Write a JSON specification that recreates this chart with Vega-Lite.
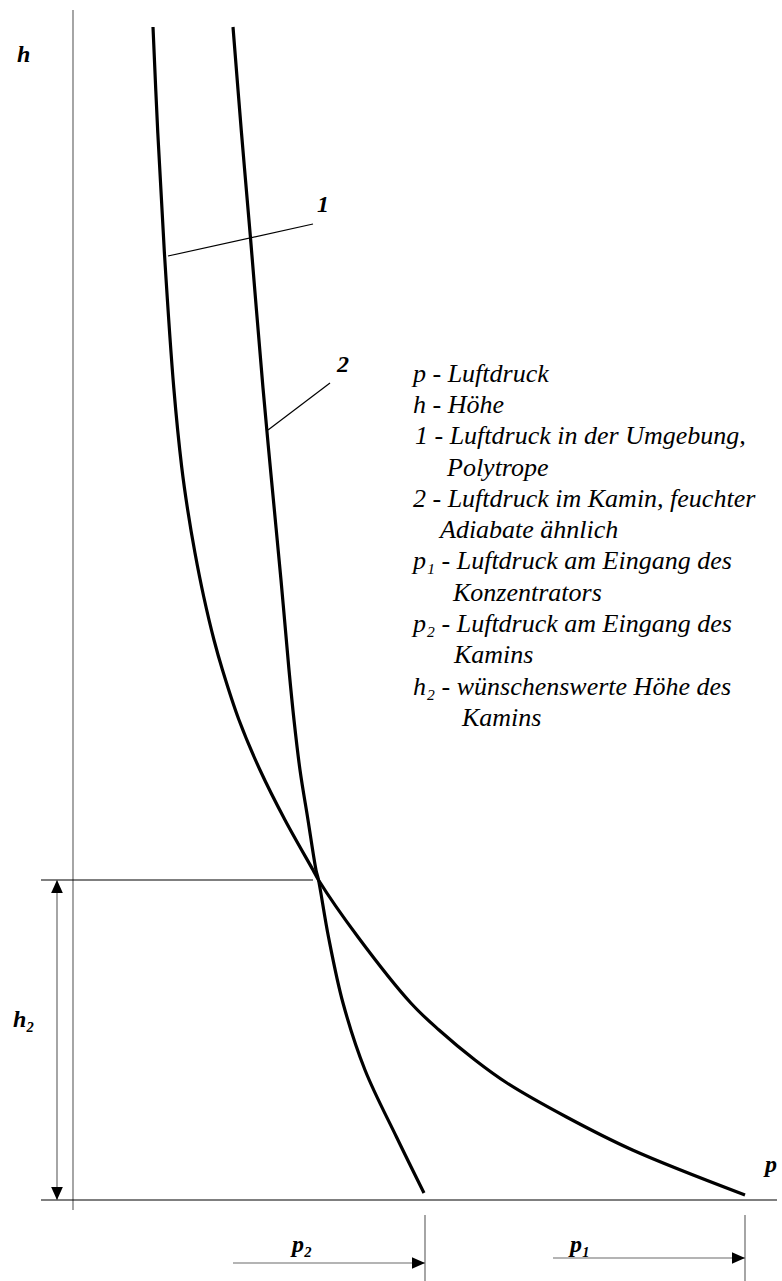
{
  "$schema": "https://vega.github.io/schema/vega-lite/v6.json",
  "width": 782,
  "height": 1281,
  "padding": 0,
  "autosize": {"type": "none"},
  "view": {"stroke": null},
  "datasets": {
    "curves": [
      {"curve": "1", "i": 0, "p": 80, "h": 1173},
      {"curve": "1", "i": 1, "p": 84.8, "h": 1067},
      {"curve": "1", "i": 2, "p": 91.6, "h": 944},
      {"curve": "1", "i": 3, "p": 100.8, "h": 812},
      {"curve": "1", "i": 4, "p": 108.7, "h": 733},
      {"curve": "1", "i": 5, "p": 114.7, "h": 690},
      {"curve": "1", "i": 6, "p": 122, "h": 647},
      {"curve": "1", "i": 7, "p": 130.8, "h": 603},
      {"curve": "1", "i": 8, "p": 141, "h": 560},
      {"curve": "1", "i": 9, "p": 149.5, "h": 530},
      {"curve": "1", "i": 10, "p": 166, "h": 480},
      {"curve": "1", "i": 11, "p": 187, "h": 430},
      {"curve": "1", "i": 12, "p": 212, "h": 380},
      {"curve": "1", "i": 13, "p": 240, "h": 330},
      {"curve": "1", "i": 14, "p": 245.5, "h": 320},
      {"curve": "1", "i": 15, "p": 285, "h": 263},
      {"curve": "1", "i": 16, "p": 337.8, "h": 197},
      {"curve": "1", "i": 17, "p": 366, "h": 170},
      {"curve": "1", "i": 18, "p": 402, "h": 140},
      {"curve": "1", "i": 19, "p": 434, "h": 117},
      {"curve": "1", "i": 20, "p": 493.5, "h": 83},
      {"curve": "1", "i": 21, "p": 559.5, "h": 50},
      {"curve": "1", "i": 22, "p": 672, "h": 5},
      {"curve": "2", "i": 0, "p": 160, "h": 1173},
      {"curve": "2", "i": 1, "p": 168.5, "h": 1067},
      {"curve": "2", "i": 2, "p": 177.5, "h": 962},
      {"curve": "2", "i": 3, "p": 190, "h": 812},
      {"curve": "2", "i": 4, "p": 198.5, "h": 720},
      {"curve": "2", "i": 5, "p": 208, "h": 620},
      {"curve": "2", "i": 6, "p": 216, "h": 530},
      {"curve": "2", "i": 7, "p": 221, "h": 480},
      {"curve": "2", "i": 8, "p": 227, "h": 430},
      {"curve": "2", "i": 9, "p": 235, "h": 380},
      {"curve": "2", "i": 10, "p": 243, "h": 330},
      {"curve": "2", "i": 11, "p": 245.5, "h": 320},
      {"curve": "2", "i": 12, "p": 255.5, "h": 263},
      {"curve": "2", "i": 13, "p": 270, "h": 197},
      {"curve": "2", "i": 14, "p": 292, "h": 130},
      {"curve": "2", "i": 15, "p": 323.5, "h": 63},
      {"curve": "2", "i": 16, "p": 351, "h": 7}
    ],
    "segs": [
      {"kind": "gray", "p": 0, "h": 1190, "p2": 0, "h2": -10},
      {"kind": "dark", "p": -32, "h": 0, "p2": 704, "h2": 0},
      {"kind": "dark", "p": -32, "h": 320, "p2": 240, "h2": 320},
      {"kind": "gray", "p": -16, "h": 320, "p2": -16, "h2": 0},
      {"kind": "dark", "p": 95, "h": 944, "p2": 240, "h2": 976},
      {"kind": "dark", "p": 195, "h": 770, "p2": 257, "h2": 817},
      {"kind": "gray", "p": 352, "h": -15, "p2": 352, "h2": -81},
      {"kind": "gray", "p": 672, "h": -15, "p2": 672, "h2": -81},
      {"kind": "gray", "p": 160, "h": -63, "p2": 352, "h2": -63},
      {"kind": "gray", "p": 480, "h": -58, "p2": 672, "h2": -58}
    ],
    "heads": [
      {"dir": "up", "p": -16, "h": 320},
      {"dir": "down", "p": -16, "h": 0},
      {"dir": "right", "p": 352, "h": -63},
      {"dir": "right", "p": 672, "h": -58}
    ],
    "labels": [
      {"label": "h", "p": -56, "h": 1138},
      {"label": "1", "p": 244, "h": 988},
      {"label": "2", "p": 264, "h": 828},
      {"label": "h₂", "p": -60, "h": 173},
      {"label": "p₂", "p": 219, "h": -52},
      {"label": "p₁", "p": 497, "h": -52},
      {"label": "p", "p": 692, "h": 28}
    ],
    "legend": [
      {"label": "p - Luftdruck", "p": 340, "h": 818},
      {"label": "h - Höhe", "p": 340, "h": 787},
      {"label": "1 - Luftdruck in der Umgebung,", "p": 342, "h": 756},
      {"label": "Polytrope", "p": 374, "h": 724},
      {"label": "2 - Luftdruck im Kamin, feuchter", "p": 340, "h": 693},
      {"label": "Adiabate ähnlich", "p": 367, "h": 662},
      {"label": "p₁ - Luftdruck am Eingang des", "p": 340, "h": 631},
      {"label": "Konzentrators", "p": 380, "h": 599},
      {"label": "p₂ - Luftdruck am Eingang des", "p": 340, "h": 568},
      {"label": "Kamins", "p": 381, "h": 537},
      {"label": "h₂ - wünschenswerte Höhe des", "p": 340, "h": 505},
      {"label": "Kamins", "p": 389, "h": 474}
    ]
  },
  "encoding": {
    "x": {"field": "p", "type": "quantitative", "scale": {"domain": [-73, 709], "nice": false, "zero": false}, "axis": null},
    "y": {"field": "h", "type": "quantitative", "scale": {"domain": [-81, 1200], "nice": false, "zero": false}, "axis": null}
  },
  "layer": [
    {
      "data": {"name": "segs"},
      "mark": {"type": "rule", "strokeWidth": 1.2},
      "encoding": {
        "x2": {"field": "p2"},
        "y2": {"field": "h2"},
        "color": {"field": "kind", "type": "nominal", "scale": {"domain": ["dark", "gray"], "range": ["#000000", "#6a6a6a"]}, "legend": null}
      }
    },
    {
      "data": {"name": "curves"},
      "mark": {"type": "line", "interpolate": "catmull-rom", "strokeWidth": 3.2, "color": "#000000", "strokeCap": "butt"},
      "encoding": {
        "detail": {"field": "curve", "type": "nominal"},
        "order": {"field": "i", "type": "quantitative"}
      }
    },
    {
      "data": {"name": "heads"},
      "mark": {"type": "point", "filled": true, "opacity": 1, "color": "#000000", "strokeWidth": 0, "size": 169},
      "encoding": {
        "shape": {"field": "dir", "type": "nominal", "scale": {"domain": ["up", "down", "right"], "range": ["M0,0L-0.9,2L0.9,2Z", "M0,0L-0.9,-2L0.9,-2Z", "M0,0L-2,-0.9L-2,0.9Z"]}, "legend": null}
      }
    },
    {
      "data": {"name": "labels"},
      "mark": {"type": "text", "fontSize": 24, "fontStyle": "italic", "fontWeight": "bold", "align": "left", "baseline": "alphabetic", "font": "Liberation Serif"},
      "encoding": {"text": {"field": "label"}}
    },
    {
      "data": {"name": "legend"},
      "mark": {"type": "text", "fontSize": 26, "fontStyle": "italic", "align": "left", "baseline": "alphabetic", "font": "Liberation Serif"},
      "encoding": {"text": {"field": "label"}}
    }
  ]
}
